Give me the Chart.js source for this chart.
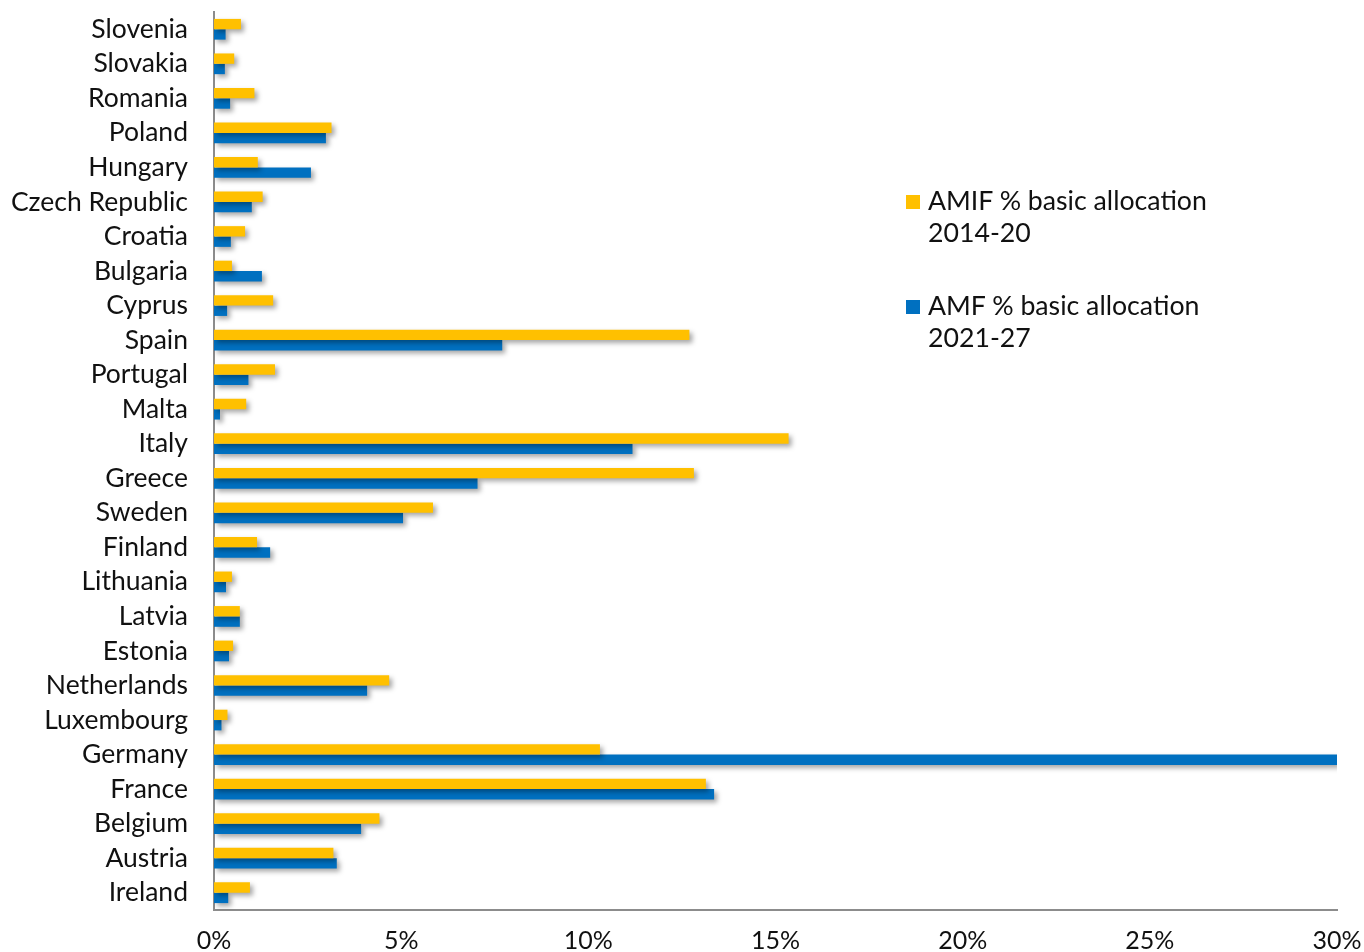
<!DOCTYPE html>
<html>
<head>
<meta charset="utf-8">
<script src="https://cdn.jsdelivr.net/npm/chart.js@4/dist/chart.umd.min.js"></script>
<style>
  html, body { margin: 0; padding: 0; background: #fff; }
  #wrap { position: relative; width: 1364px; height: 952px; }
  #legend { position: absolute; left: 906px; top: 184px; font-family: Lato, sans-serif; font-size: 26.7px; color: #111; line-height: 32px; }
  .item { display: flex; align-items: flex-start; margin-bottom: 41px; }
  .box { width: 14px; height: 14px; margin-top: 11px; margin-right: 8px; flex: none; }
</style>
</head>
<body>
<div id="wrap">
  <canvas id="chart" width="1364" height="952"></canvas>
  <div id="legend"></div>
</div>
<script>
// countries top to bottom
const countries = ['Slovenia', 'Slovakia', 'Romania', 'Poland', 'Hungary', 'Czech Republic', 'Croatia',
  'Bulgaria', 'Cyprus', 'Spain', 'Portugal', 'Malta', 'Italy', 'Greece', 'Sweden', 'Finland',
  'Lithuania', 'Latvia', 'Estonia', 'Netherlands', 'Luxembourg', 'Germany', 'France', 'Belgium',
  'Austria', 'Ireland'];

// AMIF % basic allocation 2014-20
const amif = [0.72, 0.54, 1.08, 3.14, 1.17, 1.30, 0.83, 0.48, 1.58, 12.70, 1.63, 0.86, 15.35, 12.82,
  5.85, 1.15, 0.48, 0.69, 0.51, 4.68, 0.36, 10.31, 13.14, 4.42, 3.19, 0.96];

// AMF % basic allocation 2021-27
const amf = [0.31, 0.29, 0.43, 2.99, 2.59, 1.01, 0.45, 1.28, 0.35, 7.70, 0.92, 0.16, 11.18, 7.04,
  5.05, 1.50, 0.32, 0.69, 0.40, 4.09, 0.20, 30.0, 13.36, 3.93, 3.28, 0.38];

const seriesNames = [['AMIF % basic allocation', '2014-20'], ['AMF % basic allocation', '2021-27']];
const xTicks = [0, 5, 10, 15, 20, 25, 30];

const yellow = '#FFC000';
const blue = '#0070C0';

// soft drop shadow under bars
const shadow = {
  id: 'shadow',
  beforeDatasetsDraw(chart) {
    const c = chart.ctx;
    c.save();
    c.shadowColor = 'rgba(0,0,0,0.35)';
    c.shadowBlur = 5;
    c.shadowOffsetX = 3;
    c.shadowOffsetY = 3;
  },
  afterDatasetsDraw(chart) {
    chart.ctx.restore();
  }
};

new Chart(document.getElementById('chart'), {
  type: 'bar',
  data: {
    labels: countries,
    datasets: [
      { label: seriesNames[0].join(' '), data: amif, backgroundColor: yellow },
      { label: seriesNames[1].join(' '), data: amf, backgroundColor: blue }
    ]
  },
  options: {
    indexAxis: 'y',
    responsive: false,
    animation: false,
    layout: { padding: { top: 12, right: 27, left: 0, bottom: 0 } },
    plugins: { legend: { display: false }, tooltip: { enabled: false } },
    datasets: { bar: { barPercentage: 1, categoryPercentage: 0.6 } },
    scales: {
      x: {
        min: 0,
        max: 30,
        afterBuildTicks(scale) { scale.ticks = xTicks.map(v => ({ value: v })); },
        afterFit(scale) { scale.height = 42; scale.paddingLeft = 0; scale.paddingRight = 0; },
        grid: { display: false, drawTicks: false },
        border: { display: true, color: '#8c8c8c', width: 2 },
        ticks: {
          padding: 16,
          color: '#111',
          font: { family: 'Lato', size: 25 },
          maxRotation: 0,
          callback: v => v + '%'
        }
      },
      y: {
        afterFit(scale) { scale.width = 214; scale.paddingTop = 0; scale.paddingBottom = 0; },
        grid: { display: false, drawTicks: false },
        border: { display: true, color: '#8c8c8c', width: 2 },
        ticks: {
          padding: 26,
          color: '#111',
          autoSkip: false,
          font: { family: 'Lato', size: 26.5 }
        }
      }
    }
  },
  plugins: [shadow]
});

// legend as html so each label can wrap onto two lines
const lg = document.getElementById('legend');
[yellow, blue].forEach((col, i) => {
  const it = document.createElement('div');
  it.className = 'item';
  it.innerHTML = '<div class="box" style="background:' + col + '"></div><div>' +
    seriesNames[i][0] + '<br>' + seriesNames[i][1] + '</div>';
  lg.appendChild(it);
});
</script>
</body>
</html>
